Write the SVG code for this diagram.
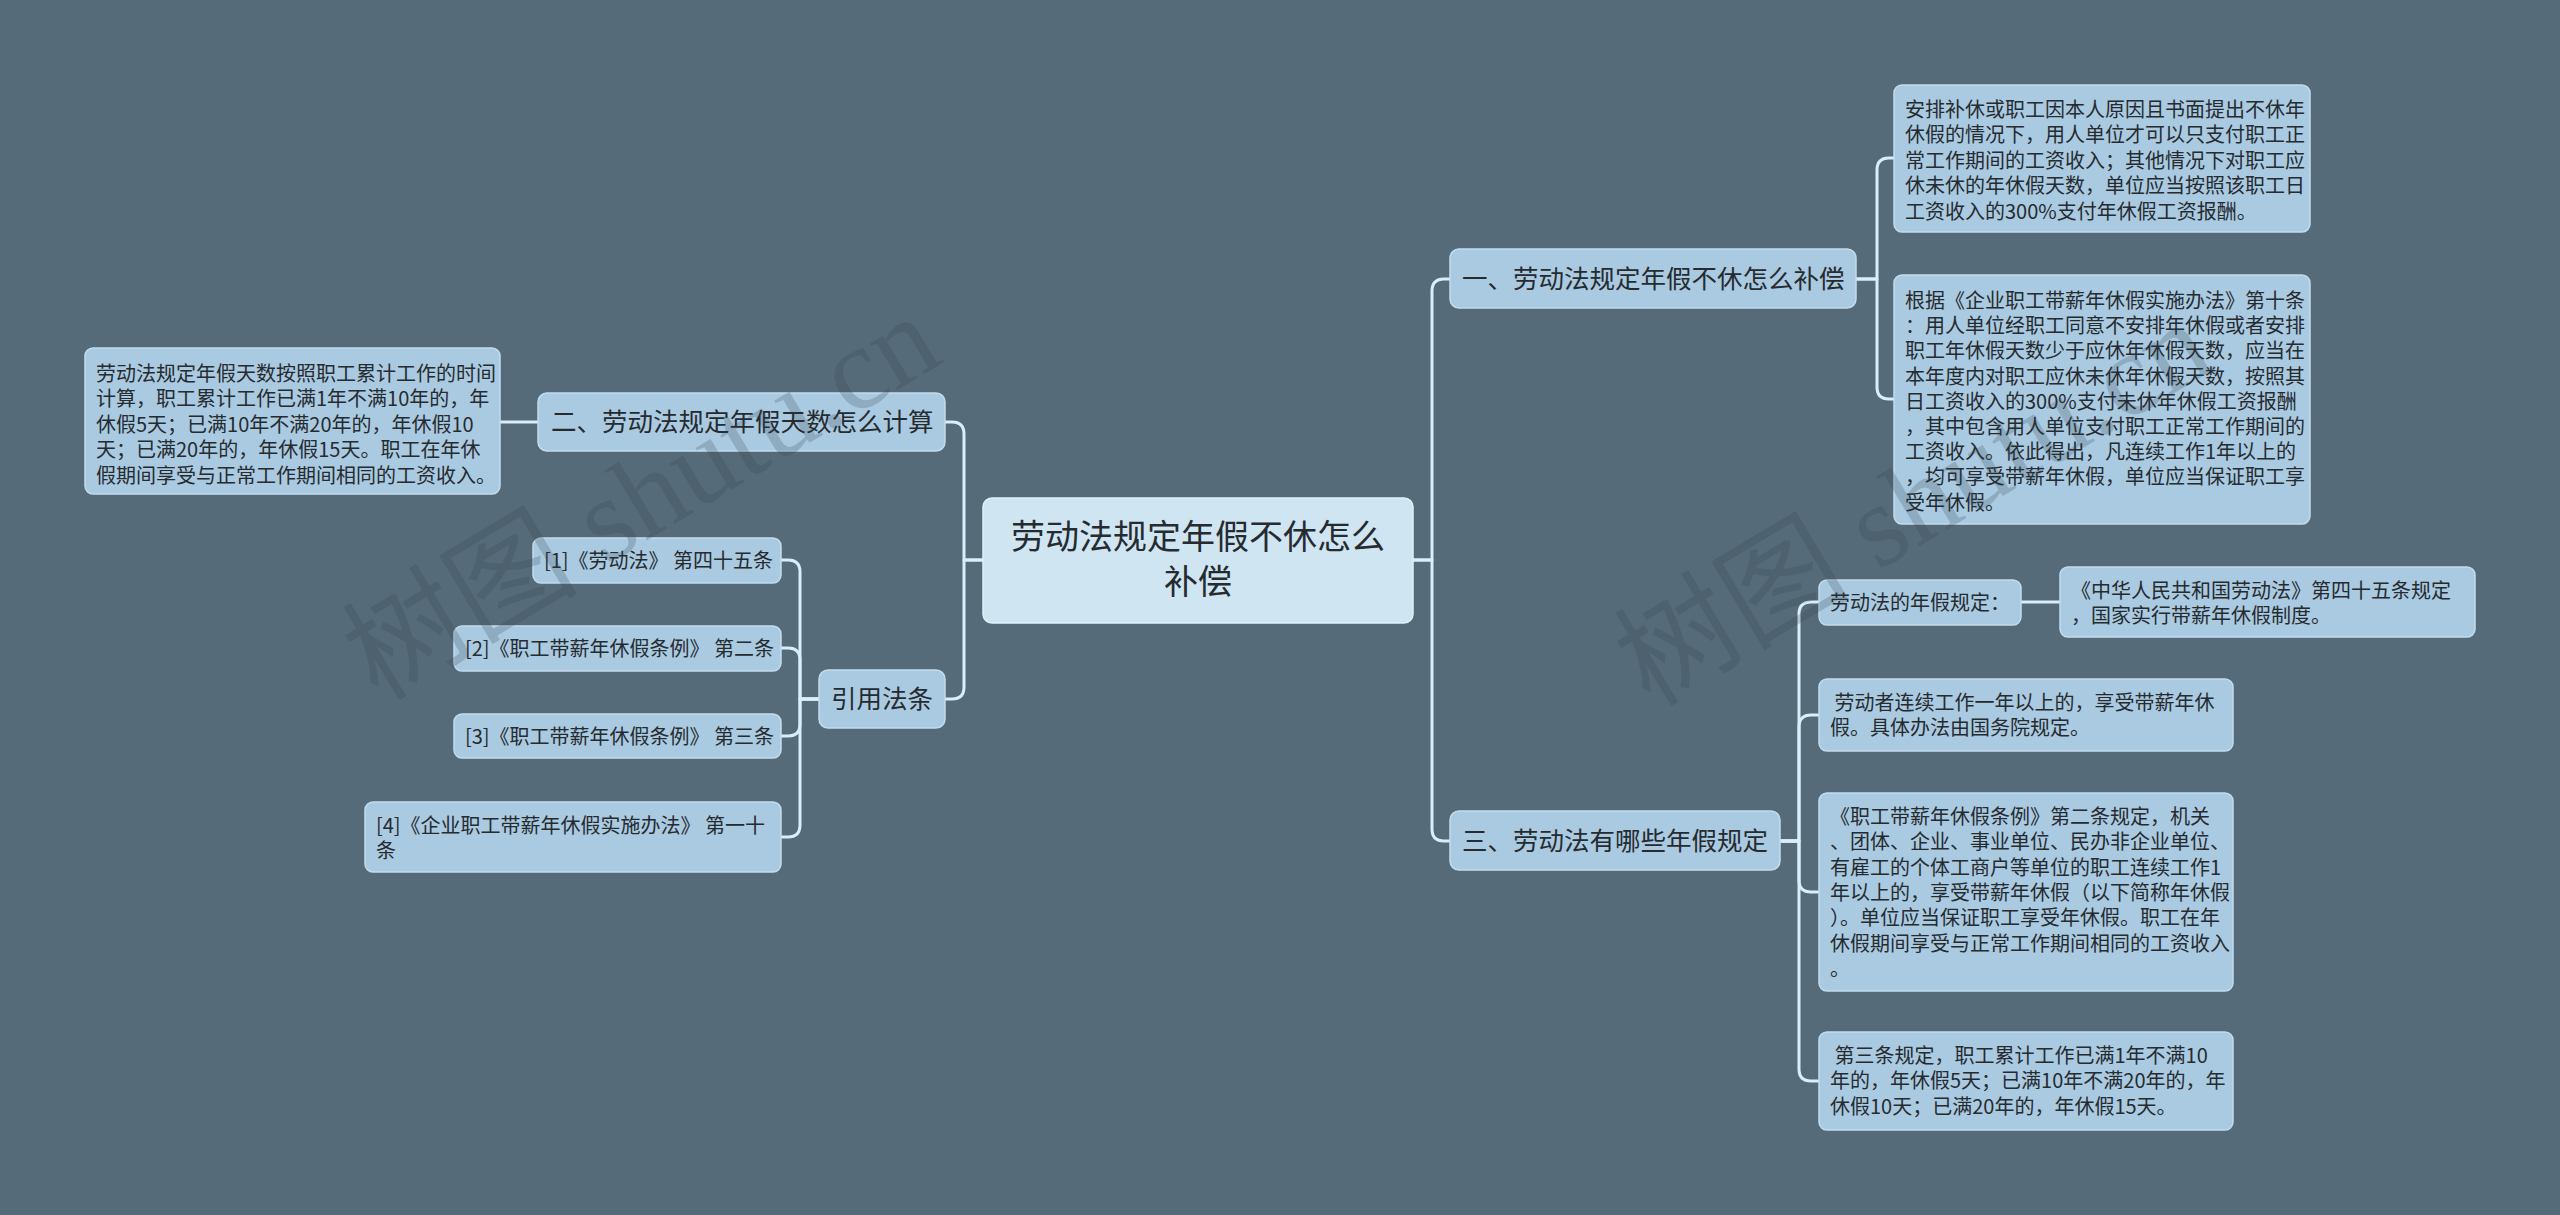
<svg xmlns="http://www.w3.org/2000/svg" width="2560" height="1215" viewBox="0 0 2560 1215">
<style>
.bg{fill:#566b7a}
.n{fill:#aacae1;stroke:#c2dbed;stroke-width:1.5}
.c{fill:#cfe5f2;stroke:#e0f0f8;stroke-width:1.5}
.t{font-family:"Noto Sans CJK SC","Noto Sans",sans-serif;fill:#262b30}
.s20{font-size:20px}
.s25{font-size:25.5px}
.s34{font-size:34px}
.e{fill:none;stroke:#d8eef8;stroke-width:3;stroke-linecap:round;stroke-linejoin:round}
.wm{font-family:"Liberation Serif","Noto Sans CJK SC",serif;font-size:118px;fill:#2e3f4c;opacity:0.22}
</style>
<rect class="bg" x="0" y="0" width="2560" height="1215"/>

<g id="connectors">
<path class="e" d="M1413 560 H1432 V291 Q1432 279 1444 279 H1450"/>
<path class="e" d="M1413 560 H1432 V829 Q1432 841 1444 841 H1450"/>
<path class="e" d="M1856 279 H1877 V170 Q1877 158 1889 158 H1894"/>
<path class="e" d="M1856 279 H1877 V387 Q1877 399 1889 399 H1894"/>
<path class="e" d="M1780 841 H1799 V614 Q1799 602 1811 602 H1819"/>
<path class="e" d="M1780 841 H1799 V727 Q1799 715 1811 715 H1819"/>
<path class="e" d="M1780 841 H1799 V880 Q1799 892 1811 892 H1819"/>
<path class="e" d="M1780 841 H1799 V1069 Q1799 1081 1811 1081 H1819"/>
<path class="e" d="M2021 602 H2060"/>
<path class="e" d="M983 560 H964 V434 Q964 422 952 422 H945"/>
<path class="e" d="M983 560 H964 V687 Q964 699 952 699 H945"/>
<path class="e" d="M539 422 H500"/>
<path class="e" d="M819 699 H800 V572 Q800 560 788 560 H781"/>
<path class="e" d="M819 699 H800 V660 Q800 648 788 648 H781"/>
<path class="e" d="M819 699 H800 V724 Q800 736 788 736 H781"/>
<path class="e" d="M819 699 H800 V825 Q800 837 788 837 H781"/>
</g>

<g id="root">
<rect class="c" x="983" y="498" width="430" height="125" rx="9"/>
<text class="t s34" text-anchor="middle"><tspan x="1198" y="549">劳动法规定年假不休怎么</tspan><tspan x="1198" y="594">补偿</tspan></text>
</g>

<g id="n1">
<rect class="n" x="1450" y="249" width="406" height="59" rx="9"/>
<text class="t s25" x="1462" y="288">一、劳动法规定年假不休怎么补偿</text>
</g>

<g id="n1a">
<rect class="n" x="1894" y="85" width="416" height="147" rx="8"/>
<text class="t s20"><tspan x="1905" y="117">安排补休或职工因本人原因且书面提出不休年</tspan><tspan x="1905" y="142.4">休假的情况下，用人单位才可以只支付职工正</tspan><tspan x="1905" y="167.8">常工作期间的工资收入；其他情况下对职工应</tspan><tspan x="1905" y="193.2">休未休的年休假天数，单位应当按照该职工日</tspan><tspan x="1905" y="218.6">工资收入的300%支付年休假工资报酬。</tspan></text>
</g>

<g id="n1b">
<rect class="n" x="1894" y="275" width="416" height="249" rx="8"/>
<text class="t s20"><tspan x="1905" y="308">根据《企业职工带薪年休假实施办法》第十条</tspan><tspan x="1905" y="333.2">：用人单位经职工同意不安排年休假或者安排</tspan><tspan x="1905" y="358.4">职工年休假天数少于应休年休假天数，应当在</tspan><tspan x="1905" y="383.6">本年度内对职工应休未休年休假天数，按照其</tspan><tspan x="1905" y="408.8">日工资收入的300%支付未休年休假工资报酬</tspan><tspan x="1905" y="434">，其中包含用人单位支付职工正常工作期间的</tspan><tspan x="1905" y="459.2">工资收入。依此得出，凡连续工作1年以上的</tspan><tspan x="1905" y="484.4">，均可享受带薪年休假，单位应当保证职工享</tspan><tspan x="1905" y="509.6">受年休假。</tspan></text>
</g>

<g id="n3">
<rect class="n" x="1450" y="811" width="330" height="59" rx="9"/>
<text class="t s25" x="1462" y="850">三、劳动法有哪些年假规定</text>
</g>

<g id="n3a">
<rect class="n" x="1819" y="580" width="202" height="45" rx="8"/>
<text class="t s20" x="1830" y="610">劳动法的年假规定：</text>
</g>

<g id="n3a1">
<rect class="n" x="2060" y="567" width="415" height="70" rx="8"/>
<text class="t s20"><tspan x="2071" y="598">《中华人民共和国劳动法》第四十五条规定</tspan><tspan x="2071" y="623.3">，国家实行带薪年休假制度。</tspan></text>
</g>

<g id="n3b">
<rect class="n" x="1819" y="679" width="414" height="72" rx="8"/>
<text class="t s20" xml:space="preserve"><tspan x="1830" y="710"> 劳动者连续工作一年以上的，享受带薪年休</tspan><tspan x="1830" y="735.3">假。具体办法由国务院规定。</tspan></text>
</g>

<g id="n3c">
<rect class="n" x="1819" y="793" width="414" height="198" rx="8"/>
<text class="t s20"><tspan x="1830" y="824">《职工带薪年休假条例》第二条规定，机关</tspan><tspan x="1830" y="849.3">、团体、企业、事业单位、民办非企业单位、</tspan><tspan x="1830" y="874.6">有雇工的个体工商户等单位的职工连续工作1</tspan><tspan x="1830" y="899.9">年以上的，享受带薪年休假（以下简称年休假</tspan><tspan x="1830" y="925.2">）。单位应当保证职工享受年休假。职工在年</tspan><tspan x="1830" y="950.5">休假期间享受与正常工作期间相同的工资收入</tspan><tspan x="1830" y="975.8">。</tspan></text>
</g>

<g id="n3d">
<rect class="n" x="1819" y="1032" width="414" height="98" rx="8"/>
<text class="t s20" xml:space="preserve"><tspan x="1830" y="1063"> 第三条规定，职工累计工作已满1年不满10</tspan><tspan x="1830" y="1088.3">年的，年休假5天；已满10年不满20年的，年</tspan><tspan x="1830" y="1113.6">休假10天；已满20年的，年休假15天。</tspan></text>
</g>

<g id="n2">
<rect class="n" x="538" y="393" width="407" height="58" rx="9"/>
<text class="t s25" x="551" y="431">二、劳动法规定年假天数怎么计算</text>
</g>

<g id="n2a">
<rect class="n" x="85" y="348" width="415" height="146" rx="8"/>
<text class="t s20"><tspan x="96" y="381">劳动法规定年假天数按照职工累计工作的时间</tspan><tspan x="96" y="406.4">计算，职工累计工作已满1年不满10年的，年</tspan><tspan x="96" y="431.8">休假5天；已满10年不满20年的，年休假10</tspan><tspan x="96" y="457.2">天；已满20年的，年休假15天。职工在年休</tspan><tspan x="96" y="482.6">假期间享受与正常工作期间相同的工资收入。</tspan></text>
</g>

<g id="n4">
<rect class="n" x="819" y="670" width="126" height="58" rx="9"/>
<text class="t s25" x="831" y="708">引用法条</text>
</g>

<g id="r1">
<rect class="n" x="533" y="538" width="248" height="45" rx="8"/>
<text class="t s20" x="544" y="568">[1]《劳动法》 第四十五条</text>
</g>
<g id="r2">
<rect class="n" x="454" y="626" width="327" height="45" rx="8"/>
<text class="t s20" x="465" y="656">[2]《职工带薪年休假条例》 第二条</text>
</g>
<g id="r3">
<rect class="n" x="454" y="714" width="327" height="44" rx="8"/>
<text class="t s20" x="465" y="744">[3]《职工带薪年休假条例》 第三条</text>
</g>
<g id="r4">
<rect class="n" x="365" y="802" width="416" height="70" rx="8"/>
<text class="t s20"><tspan x="376" y="833">[4]《企业职工带薪年休假实施办法》 第一十</tspan><tspan x="376" y="858.3">条</tspan></text>
</g>

<g id="watermarks">
<text class="wm" transform="translate(378 702) rotate(-31)">树图 shutu.cn</text>
<text class="wm" transform="translate(1650 708) rotate(-31)">树图 shutu.cn</text>
</g>
</svg>
